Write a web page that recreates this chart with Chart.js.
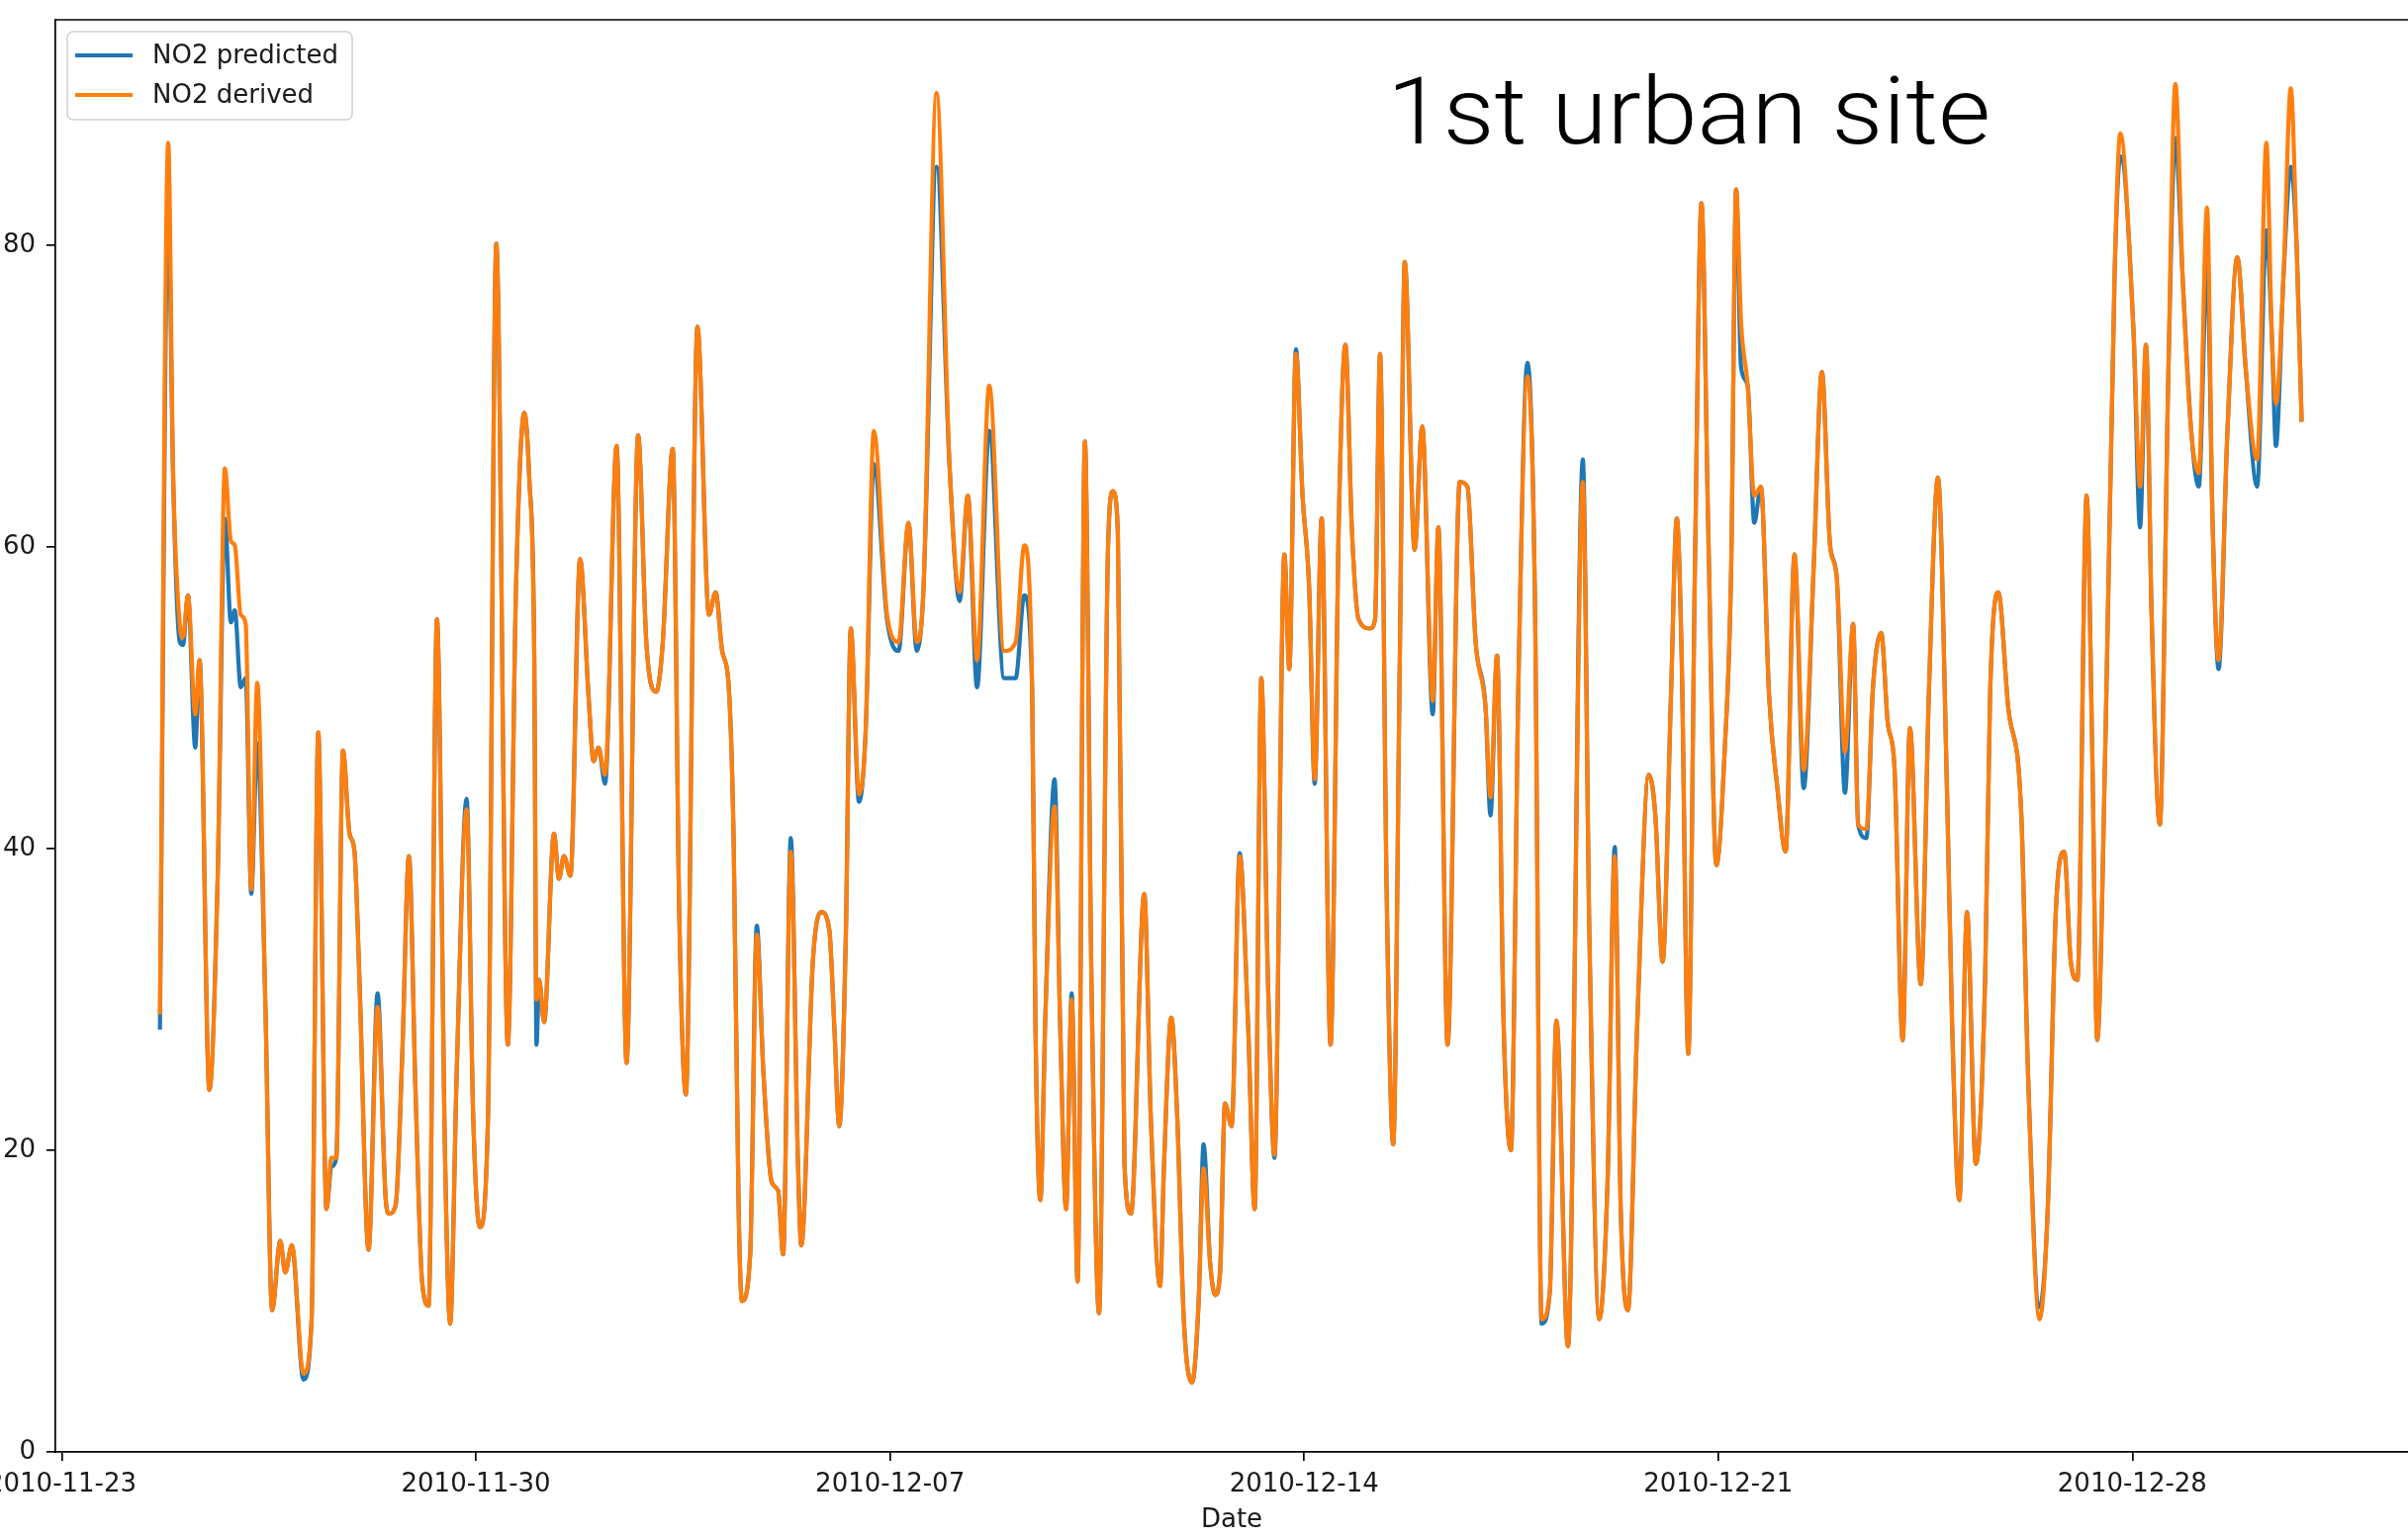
<!DOCTYPE html>
<html>
<head>
<meta charset="utf-8">
<style>
html,body{margin:0;padding:0;background:#fff;overflow:hidden}
#c{display:block}
</style>
<script src="https://cdn.jsdelivr.net/npm/chart.js@4.4.1/dist/chart.umd.min.js"></script>
</head>
<body>
<canvas id="c" width="2434" height="1556" style="width:2434px;height:1556px"></canvas>
<script>
// ---- data (x = days since 2010-11-23 00:00) ----
const days = [
1.658,1.798,1.881,1.993,2.048,2.132,2.255,2.327,2.494,2.634,
2.756,2.857,2.924,3.024,3.108,3.202,3.303,3.442,3.554,3.693,
3.776,3.888,4.083,4.222,4.334,4.473,4.557,4.640,4.752,4.863,
4.947,5.031,5.185,5.337,5.476,5.532,5.644,5.755,5.867,5.978,
6.090,6.201,6.341,6.480,6.564,6.675,6.842,6.954,7.065,7.204,
7.344,7.539,7.678,7.818,7.901,7.985,8.024,8.069,8.152,8.319,
8.403,8.487,8.598,8.760,8.905,8.988,9.072,9.183,9.378,9.546,
9.741,9.880,10.047,10.159,10.326,10.438,10.549,10.744,10.939,11.051,
11.162,11.274,11.357,11.441,11.497,11.636,11.747,11.859,11.998,12.110,
12.193,12.322,12.444,12.500,12.695,12.834,12.974,13.057,13.141,13.253,
13.336,13.475,13.587,13.726,13.949,14.144,14.312,14.451,14.563,14.786,
15.008,15.176,15.315,15.471,15.677,15.928,16.123,16.270,16.402,16.458,
16.541,16.625,16.781,16.876,16.976,17.071,17.171,17.294,17.405,17.533,
17.684,17.768,17.851,17.963,18.074,18.297,18.408,18.565,18.632,18.754,
18.855,18.966,19.105,19.217,19.300,19.412,19.496,19.579,19.662,19.774,
19.910,20.053,20.164,20.276,20.388,20.499,20.666,20.750,20.861,20.973,
21.084,21.179,21.296,21.446,21.586,21.697,21.809,21.920,22.115,22.199,
22.283,22.394,22.506,22.617,22.701,22.868,22.996,23.174,23.269,23.425,
23.630,23.760,23.899,24.066,24.150,24.261,24.373,24.495,24.624,24.774,
24.903,25.014,25.153,25.265,25.460,25.711,25.822,25.990,26.129,26.251,
26.352,26.474,26.630,26.826,26.937,27.060,27.200,27.300,27.383,27.494,
27.606,27.717,27.829,27.968,28.108,28.219,28.303,28.386,28.498,28.609,
28.721,28.860,29.000,29.139,29.289,29.445,29.613,29.752,29.891,30.003,
30.142,30.281,30.365,30.504,30.616,30.755,30.867,30.978,31.118,31.240,
31.424,31.564,31.714,31.870,31.954,32.076,32.205,32.355,32.511,32.595,
32.734,32.901,33.124,33.236,33.431,33.570,33.710,33.849,33.960,34.072,
34.228,34.323,34.406,34.550,34.700,34.797,35.020,35.131,35.231,35.326,
35.465,35.605,35.727,35.856,35.995,36.123,36.263,36.357,36.458,36.608,
36.775,36.915,37.110,37.266,37.361,37.428,37.556,37.678,37.779,37.862
];
const no2Predicted = [
28.0,82.8,64.6,53.7,53.5,56.8,46.7,52.5,24.0,38.0,
61.9,55.0,55.8,50.7,51.3,37.0,47.0,29.4,9.4,14.0,
11.9,13.7,4.8,8.8,47.7,16.1,18.9,19.5,46.5,41.0,
39.8,31.3,13.4,30.4,16.7,15.8,16.4,26.4,39.5,24.0,
11.3,9.7,55.2,19.1,8.5,25.2,43.3,22.2,14.9,22.2,
80.1,27.0,57.4,68.9,64.6,53.1,27.0,31.3,28.5,41.0,
38.0,39.5,38.2,59.2,50.0,45.8,46.7,44.3,66.7,25.8,
67.4,53.7,50.4,53.7,66.5,35.5,23.7,74.6,55.5,57.0,
53.1,50.7,40.4,16.1,10.0,13.1,34.9,25.2,17.9,17.3,
13.1,40.7,19.1,13.7,32.5,35.8,34.6,28.3,21.6,34.3,
54.6,43.1,47.7,65.5,55.2,53.1,61.6,53.1,57.0,85.2,
65.2,56.4,63.4,50.7,67.7,51.3,51.3,56.8,50.7,28.3,
16.7,28.8,44.6,28.3,16.1,30.4,11.3,67.0,31.3,9.2,
59.8,63.7,61.0,19.1,15.8,37.0,22.2,11.0,19.1,28.8,
22.2,8.8,4.6,10.0,20.4,12.5,10.4,11.9,23.1,21.6,
39.7,28.3,16.1,51.3,31.3,19.5,59.5,51.9,73.1,63.4,
57.4,44.3,61.9,27.0,61.6,73.4,61.0,55.2,54.6,55.2,
72.8,37.4,20.4,52.5,78.9,59.8,68.0,48.9,61.3,27.0,
64.3,64.0,53.7,49.4,42.2,52.8,28.3,20.0,51.3,72.2,
56.1,8.5,10.6,28.6,7.0,65.8,34.3,8.8,17.9,40.1,
16.1,9.4,28.3,44.9,42.2,32.5,50.0,61.9,52.5,26.4,
58.6,82.8,61.6,38.9,46.4,58.6,83.7,71.9,70.7,61.6,
64.0,50.1,44.0,39.8,59.5,44.0,58.6,71.6,60.1,58.0,
43.7,54.9,41.6,40.7,50.7,54.3,48.3,45.5,27.3,48.0,
31.0,50.7,64.6,43.4,28.3,16.7,35.8,19.1,31.3,50.1,
57.0,49.4,42.2,25.2,9.6,16.1,36.1,39.8,32.5,31.3,
63.4,46.4,27.3,48.0,78.0,85.9,74.3,61.3,73.4,55.5,
41.6,70.7,87.1,77.4,67.7,64.0,78.6,61.6,51.9,67.7,
79.2,71.9,64.0,81.0,73.7,66.7,78.0,85.2,79.8,68.3
];
const no2Derived = [
29.0,86.8,65.0,54.9,54.0,56.8,48.9,52.5,24.0,38.0,
65.2,60.4,60.1,55.5,54.9,37.3,51.0,29.4,9.4,14.0,
11.9,13.7,5.2,8.8,47.7,16.1,19.5,19.5,46.5,41.0,
39.8,31.3,13.4,29.5,16.7,15.8,16.4,26.4,39.5,24.0,
11.3,9.7,55.2,19.1,8.5,25.2,42.6,22.2,14.9,22.2,
80.1,27.0,57.4,68.9,64.6,53.1,30.0,31.3,28.5,41.0,
38.0,39.5,38.2,59.2,50.0,45.8,46.7,44.9,66.7,25.8,
67.4,53.7,50.4,53.7,66.5,35.5,23.7,74.6,55.5,57.0,
53.1,50.7,40.4,16.1,10.0,13.1,34.3,25.2,17.9,17.3,
13.1,39.8,19.1,13.7,32.5,35.8,34.6,28.3,21.6,34.3,
54.6,43.6,47.7,67.7,55.5,53.7,61.6,53.7,57.0,90.1,
65.2,57.0,63.4,52.5,70.7,53.1,53.7,60.1,50.7,28.3,
16.7,28.8,42.8,28.3,16.1,30.0,11.3,67.0,31.3,9.2,
59.8,63.7,61.0,19.1,15.8,37.0,22.2,11.0,19.1,28.8,
22.2,8.8,4.6,10.0,18.8,12.5,10.4,11.9,23.1,21.6,
39.5,28.3,16.1,51.3,31.3,19.7,59.5,51.9,72.8,63.4,
57.4,44.6,61.9,27.0,61.6,73.4,61.0,55.2,54.6,55.2,
72.8,37.4,20.4,52.5,78.9,59.8,68.0,49.8,61.3,27.0,
64.3,64.0,53.7,49.4,43.4,52.8,28.3,20.0,51.3,71.3,
56.1,8.8,10.6,28.6,7.0,64.3,34.3,8.8,17.9,39.5,
16.1,9.4,28.3,44.9,42.2,32.5,50.0,61.9,52.5,26.4,
58.6,82.8,61.6,38.9,46.4,58.6,83.7,74.9,70.7,63.4,
64.0,50.1,44.0,39.8,59.5,45.2,58.6,71.6,60.1,58.0,
46.4,54.9,41.6,41.3,50.7,54.3,48.3,45.5,27.3,48.0,
31.0,50.7,64.6,43.4,28.3,16.7,35.8,19.1,31.3,50.1,
57.0,49.4,42.2,25.2,8.8,16.1,36.1,39.8,32.5,31.3,
63.4,46.4,27.3,48.0,78.0,87.4,74.3,64.0,73.4,55.5,
41.6,70.7,90.7,77.4,67.7,64.9,82.5,61.6,52.5,67.7,
79.2,71.9,65.8,86.8,73.7,69.5,78.0,90.4,79.8,68.3
];
const seriesLabels = ['NO2 predicted', 'NO2 derived'];
const xTickDays = [0, 7, 14, 21, 28, 35];
const xTickLabels = ['2010-11-23', '2010-11-30', '2010-12-07', '2010-12-14', '2010-12-21', '2010-12-28'];
const yTicks = [0, 20, 40, 60, 80];
const xAxisTitle = 'Date';
const annotationText = '1st urban site';

// ---- styling ----
const BLUE = '#1f77b4', ORANGE = '#ff7f0e';
const FONT = 'DejaVu Sans';
const FS = 26;
const LW = 4.2;

const toPoints = (vals) => days.map((d, i) => ({ x: d, y: vals[i] }));

const overlayPlugin = {
  id: 'overlay',
  afterDraw(chart) {
    const ctx = chart.ctx, a = chart.chartArea;
    ctx.save();
    // top spine
    ctx.strokeStyle = '#000';
    ctx.lineWidth = 1.7;
    ctx.beginPath();
    ctx.moveTo(a.left - 0.85, a.top);
    ctx.lineTo(a.right, a.top);
    ctx.stroke();

    // legend box
    const bx = a.left + 12, by = a.top + 12, bw = 288, bh = 89;
    ctx.beginPath();
    ctx.roundRect(bx, by, bw, bh, 6);
    ctx.fillStyle = 'rgba(255,255,255,0.8)';
    ctx.fill();
    ctx.strokeStyle = '#d0d0d0';
    ctx.lineWidth = 1.5;
    ctx.stroke();
    ctx.font = FS + 'px "' + FONT + '"';
    ctx.textBaseline = 'middle';
    ctx.textAlign = 'left';
    chart.data.datasets.forEach((ds, i) => {
      const y = by + 24 + i * 40;
      ctx.strokeStyle = ds.borderColor;
      ctx.lineWidth = LW;
      ctx.beginPath();
      ctx.moveTo(bx + 8, y);
      ctx.lineTo(bx + 66, y);
      ctx.stroke();
      ctx.fillStyle = '#1a1a1a';
      ctx.fillText(ds.label, bx + 86, y + 1);
    });

    // annotation text
    ctx.font = '300 94px Roboto, "Liberation Sans", sans-serif';
    ctx.textBaseline = 'alphabetic';
    const w = ctx.measureText(annotationText).width;
    ctx.translate(1402, 145);
    ctx.scale(610 / w, 1);
    ctx.fillStyle = '#000';
    ctx.fillText(annotationText, 0, 0);
    ctx.restore();
  }
};

new Chart(document.getElementById('c'), {
  type: 'line',
  data: {
    datasets: [
      { label: seriesLabels[0], data: toPoints(no2Predicted), borderColor: BLUE, backgroundColor: BLUE,
        borderWidth: LW, pointRadius: 0, cubicInterpolationMode: 'monotone', order: 2, fill: false },
      { label: seriesLabels[1], data: toPoints(no2Derived), borderColor: ORANGE, backgroundColor: ORANGE,
        borderWidth: LW, pointRadius: 0, cubicInterpolationMode: 'monotone', order: 1, fill: false }
    ]
  },
  options: {
    responsive: false,
    animation: false,
    devicePixelRatio: 1,
    events: [],
    layout: { padding: { top: 20, right: 0, bottom: 0, left: 0 } },
    plugins: { legend: { display: false }, tooltip: { enabled: false }, title: { display: false } },
    scales: {
      x: {
        type: 'linear',
        min: -0.109,
        max: 39.66,
        afterBuildTicks: (s) => { s.ticks = xTickDays.map(v => ({ value: v })); },
        afterFit: (s) => { s.height = 88; s.paddingLeft = 0; s.paddingRight = 0; },
        ticks: {
          autoSkip: false, maxRotation: 0, minRotation: 0,
          padding: 9, color: '#1a1a1a',
          font: { family: FONT, size: FS },
          callback: (v) => { const k = xTickDays.indexOf(v); return k >= 0 ? xTickLabels[k] : ''; }
        },
        grid: { display: true, drawOnChartArea: false, drawTicks: true, tickLength: 9, color: '#000', lineWidth: 1.7 },
        border: { display: true, color: '#000', width: 1.7 },
        title: { display: true, text: xAxisTitle, color: '#1a1a1a', font: { family: FONT, size: FS }, padding: { top: 0, bottom: 3 } }
      },
      y: {
        type: 'linear',
        min: 0,
        max: 94.95,
        afterBuildTicks: (s) => { s.ticks = yTicks.map(v => ({ value: v })); },
        afterFit: (s) => { s.width = 56; s.paddingTop = 0; s.paddingBottom = 0; },
        ticks: { padding: 11, color: '#1a1a1a', font: { family: FONT, size: FS } },
        grid: { display: true, drawOnChartArea: false, drawTicks: true, tickLength: 9, color: '#000', lineWidth: 1.7 },
        border: { display: true, color: '#000', width: 1.7 }
      }
    }
  },
  plugins: [overlayPlugin]
});
</script>
</body>
</html>
